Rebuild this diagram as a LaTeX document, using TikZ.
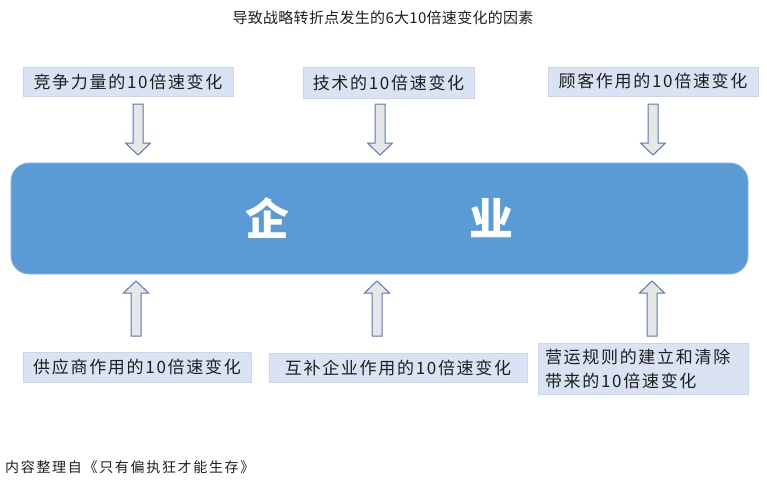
\documentclass[tikz,border=0pt]{standalone}
\usepackage{fontspec}
\setmainfont{Noto Sans CJK SC}
\newfontfamily\boxfont[LetterSpace=10]{Noto Sans CJK SC}
\newfontfamily\titlefont[LetterSpace=2]{Noto Sans CJK SC}
\newfontfamily\notefont[LetterSpace=12]{Noto Sans CJK SC}
\usetikzlibrary{calc}

\definecolor{coreblue}{HTML}{5B9BD5}
\definecolor{coreline}{HTML}{8DB3E2}
\definecolor{boxfill}{HTML}{DAE3F3}
\definecolor{boxline}{HTML}{C9D6EC}
\definecolor{arrowfill}{HTML}{E7E7E7}
\definecolor{arrowedge}{HTML}{5878B4}
\definecolor{inkgray}{HTML}{1E1E1E}

\newcommand{\fatarrow}[2]{%
  \path[draw,arrowline] let \p1=(#1), \p2=(#2), \n1={12*sign(\y1-\y2)} in
    (\x1-5pt,\y1) -- (\x1+5pt,\y1) -- (\x1+5pt,\y2+1pt*\n1) -- (\x1+12.5pt,\y2+1pt*\n1)
    -- (\x2,\y2) -- (\x1-12.5pt,\y2+1pt*\n1) -- (\x1-5pt,\y2+1pt*\n1) -- cycle;}

\begin{document}
\begin{tikzpicture}[x=1pt,y=-1pt]
  \tikzset{factor/.style={rectangle,fill=boxfill,draw=boxline,line width=0.8pt,
      inner sep=0pt,text=inkgray,font=\boxfont\fontsize{17}{24}\selectfont},
    arrowline/.style={fill=arrowfill,draw=arrowedge,line width=1pt,line join=miter}}
  \useasboundingbox (0,0) rectangle (767,483);
  \node[text=inkgray,font=\titlefont\fontsize{15}{18}\selectfont](title) at (383,18){导致战略转折点发生的6大10倍速变化的因素};
  % top row
  \node[factor,minimum width=210,minimum height=29](comp) at (128,81.5){竞争力量的10倍速变化};
  \node[factor,minimum width=171,minimum height=31](tech) at (388.5,82.5){技术的10倍速变化};
  \node[factor,minimum width=210,minimum height=29](cust) at (653,81.5){顾客作用的10倍速变化};
  % the firm
  \node[rectangle,rounded corners=18,fill=coreblue,draw=coreline,line width=0.8pt,
    minimum width=737,minimum height=111,text=white,
    font=\fontsize{44}{44}\selectfont\bfseries](firm) at (379.5,218.5){企\hspace{180pt}业};
  % bottom row
  \node[factor,minimum width=228,minimum height=30](supp) at (137,367){供应商作用的10倍速变化};
  \node[factor,minimum width=258,minimum height=29](compl) at (398,367.5){互补企业作用的10倍速变化};
  \node[factor,minimum width=210,minimum height=51,align=left,text width=196](rule) at (643,368.5){营运规则的建立和清除\\带来的10倍速变化};
  \node[anchor=west,inner sep=0pt,text=inkgray,font=\notefont\fontsize{14}{16}\selectfont](note) at (5,467){内容整理自《只有偏执狂才能生存》};
  % arrow ends
  \coordinate (c1) at (138,104);  \coordinate (f1) at (138,155);
  \coordinate (c2) at (380,104);  \coordinate (f2) at (380,155);
  \coordinate (c3) at (653,104);  \coordinate (f3) at (653,155);
  \coordinate (s1) at (136,336);  \coordinate (g1) at (136,281);
  \coordinate (s2) at (377,336);  \coordinate (g2) at (377,281);
  \coordinate (s3) at (652,336);  \coordinate (g3) at (652,281);
  \fatarrow{c1}{f1}
  \fatarrow{c2}{f2}
  \fatarrow{c3}{f3}
  \fatarrow{s1}{g1}
  \fatarrow{s2}{g2}
  \fatarrow{s3}{g3}
\end{tikzpicture}
\end{document}
